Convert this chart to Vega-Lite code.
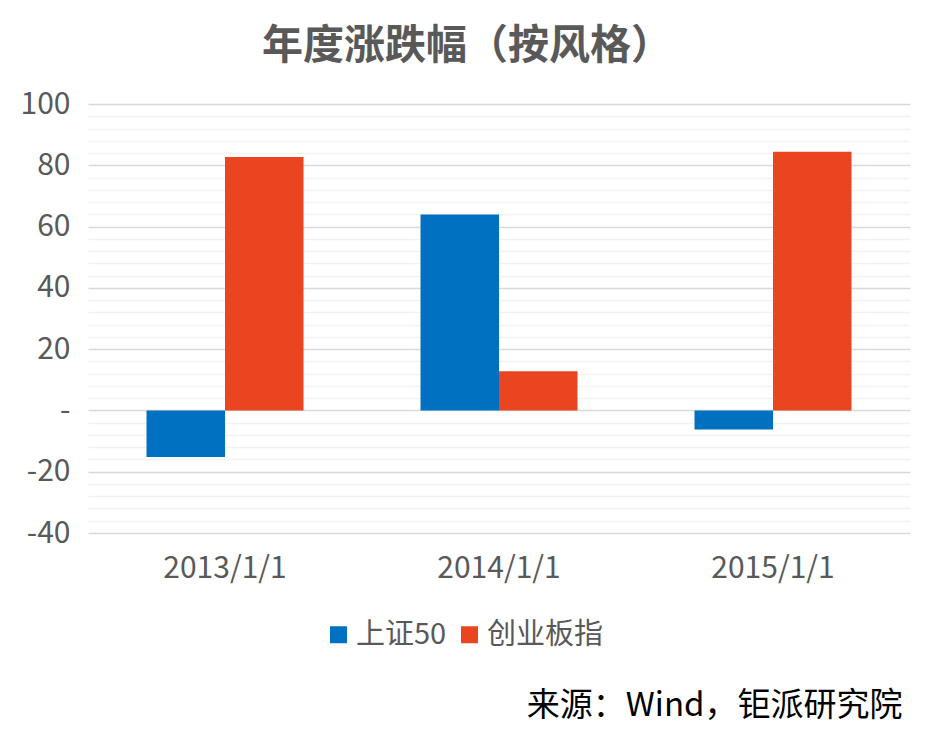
{
  "$schema": "https://vega.github.io/schema/vega-lite/v6.json",
  "autosize": "none",
  "width": 822,
  "height": 429,
  "padding": {"left": 88, "top": 104, "right": 25, "bottom": 201},
  "background": "white",
  "title": {
    "text": "年度涨跌幅（按风格）",
    "fontSize": 41,
    "fontWeight": "bold",
    "color": "#595959",
    "font": "Noto Sans CJK SC",
    "anchor": "middle",
    "dx": -32,
    "offset": 21
  },
  "data": {
    "values": [
      {"year": "2013/1/1", "series": "上证50", "value": -15.2},
      {"year": "2013/1/1", "series": "创业板指", "value": 82.7},
      {"year": "2014/1/1", "series": "上证50", "value": 63.9},
      {"year": "2014/1/1", "series": "创业板指", "value": 12.8},
      {"year": "2015/1/1", "series": "上证50", "value": -6.2},
      {"year": "2015/1/1", "series": "创业板指", "value": 84.4}
    ]
  },
  "mark": "bar",
  "encoding": {
    "x": {
      "field": "year",
      "type": "nominal",
      "scale": {"paddingInner": 0.427, "paddingOuter": 0.2135},
      "axis": {
        "labelAngle": 0,
        "labelFontSize": 30,
        "labelColor": "#595959",
        "labelPadding": 20,
        "domain": false,
        "ticks": false,
        "title": "来源：Wind，钜派研究院",
        "titleFontSize": 33,
        "titleFontWeight": "normal",
        "titleColor": "#000000",
        "titleAnchor": "end",
        "titleAlign": "right",
        "titleBaseline": "middle",
        "titleX": 814,
        "titleY": 172
      }
    },
    "xOffset": {"field": "series", "type": "nominal", "sort": ["上证50", "创业板指"]},
    "y": {
      "field": "value",
      "type": "quantitative",
      "scale": {"domain": [-40, 100], "nice": false},
      "axis": {
        "title": null,
        "values": [-40, -36, -32, -28, -24, -20, -16, -12, -8, -4, 0, 4, 8, 12, 16, 20, 24, 28, 32, 36, 40, 44, 48, 52, 56, 60, 64, 68, 72, 76, 80, 84, 88, 92, 96, 100],
        "labelExpr": "datum.value % 20 === 0 ? (datum.value === 0 ? '-' : (datum.value < 0 ? '-' + abs(datum.value) : '' + datum.value)) : ''",
        "labelFontSize": 30,
        "labelColor": "#595959",
        "labelPadding": 18,
        "labelOverlap": false,
        "labelBound": false,
        "labelFlush": false,
        "domain": false,
        "ticks": false,
        "gridWidth": 1.5,
        "gridColor": {
          "condition": {"test": "datum.value % 20 === 0", "value": "#D9D9D9"},
          "value": "#F2F2F2"
        }
      }
    },
    "color": {
      "field": "series",
      "type": "nominal",
      "scale": {"domain": ["上证50", "创业板指"], "range": ["#0070C0", "#E94520"]},
      "legend": {
        "title": null,
        "orient": "none",
        "direction": "horizontal",
        "legendX": 236,
        "legendY": 516,
        "symbolType": "square",
        "symbolSize": 289,
        "symbolStrokeWidth": 0,
        "labelFontSize": 29,
        "labelColor": "#595959",
        "labelOffset": 3,
        "columnPadding": 8
      }
    }
  },
  "config": {
    "font": "Noto Sans CJK SC",
    "view": {"stroke": null}
  }
}
